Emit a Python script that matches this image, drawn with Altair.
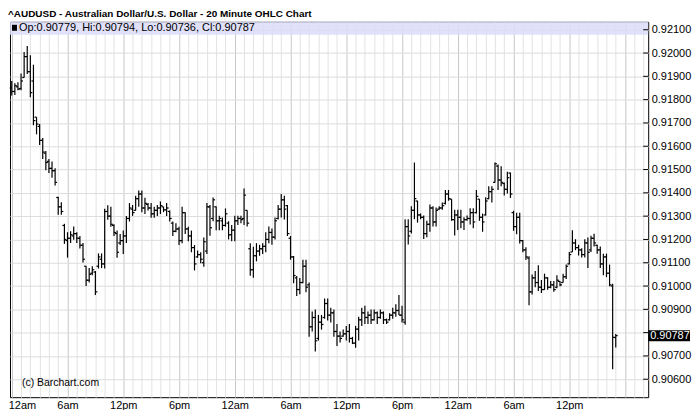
import altair as alt
import pandas as pd
import numpy as np

# ---- data (prices in units of 0.00001) ----
high = [91880,91870,91875,91912,92004,92030,91990,91950,91725,91695,
        91635,91580,91545,91535,91505,91383,91360,91267,91231,91235,
        91255,91231,91215,91185,91085,91077,91085,91065,91140,91140,
        91332,91347,91340,91265,91238,91223,91238,91301,91356,91348,
        91387,91410,91410,91379,91356,91356,91340,91348,91363,91340,
        91356,91324,91277,91270,91254,91340,91317,91254,91238,91176,
        91152,91145,91208,91356,91348,91380,91341,91302,91294,91333,
        91278,91262,91302,91302,91302,91419,91325,91184,91169,91184,
        91177,91184,91231,91255,91247,91294,91348,91395,91387,91348,
        91215,91129,91043,91035,91113,91113,91015,90891,90899,90876,
        90876,90946,90946,90907,90899,90837,90805,90813,90829,90837,
        90782,90829,90868,90907,90915,90891,90899,90899,90891,90899,
        90891,90860,90883,90907,90922,90962,90915,91287,91287,91342,
        91530,91366,91311,91303,91280,91350,91342,91337,91342,91358,
        91412,91412,91373,91327,91327,91327,91295,91303,91334,91334,
        91412,91373,91311,91381,91428,91428,91530,91522,91514,91444,
        91491,91487,91323,91315,91315,91198,91167,91128,91050,91065,
        91089,91026,91053,91038,91022,91022,91046,91022,91053,91092,
        91146,91239,91201,91177,91162,91201,91208,91216,91224,91177,
        91170,91139,91139,91092,91010,90794]
low = [91818,91820,91840,91840,91895,91910,91810,91690,91651,91605,
       91545,91497,91485,91465,91432,91306,91306,91181,91122,91185,
       91199,91185,91161,91101,91000,91015,91046,90961,91075,91077,
       91075,91285,91254,91215,91121,91176,91137,91185,91277,91301,
       91324,91340,91317,91309,91324,91293,91293,91301,91309,91317,
       91301,91277,91215,91231,91176,91184,91223,91192,91145,91067,
       91121,91098,91083,91137,91216,91278,91239,91239,91239,91255,
       91200,91192,91192,91262,91270,91262,91255,91044,91036,91106,
       91130,91137,91145,91184,91177,91200,91286,91294,91286,91215,
       91113,91012,90957,90965,91012,90973,90782,90805,90719,90766,
       90813,90860,90852,90844,90782,90743,90758,90782,90766,90758,
       90751,90735,90766,90829,90837,90837,90837,90852,90837,90860,
       90837,90837,90852,90860,90868,90876,90844,90834,91178,91225,
       91287,91272,91287,91202,91209,91233,91256,91256,91327,91327,
       91350,91366,91280,91217,91241,91248,91241,91280,91264,91248,
       91311,91280,91233,91303,91373,91358,91444,91412,91428,91389,
       91397,91378,91237,91222,91183,91145,91112,90917,90964,90995,
       90979,90970,90984,90984,90991,90976,90991,90999,91015,91030,
       91092,91146,91154,91131,91123,91123,91077,91146,91170,91139,
       91077,91046,91038,90999,90643,90736]
open_ = [91850,91835,91855,91848,91895,91985,91920,91880,91725,91685,
         91625,91570,91535,91505,91495,91380,91340,91260,91195,91205,
         91215,91225,91205,91175,91085,91025,91055,91060,91085,91115,
         91095,91320,91300,91260,91225,91185,91195,91215,91290,91330,
         91325,91375,91395,91335,91350,91335,91310,91325,91335,91340,
         91327,91320,91270,91235,91245,91195,91315,91245,91215,91165,
         91125,91135,91100,91150,91340,91290,91340,91280,91280,91260,
         91270,91220,91240,91280,91290,91290,91325,91160,91070,91130,
         91150,91160,91170,91200,91230,91210,91290,91330,91370,91345,
         91205,91125,91035,90985,91015,91085,91005,90825,90865,90775,
         90845,90865,90925,90875,90885,90805,90785,90785,90795,90805,
         90775,90755,90815,90855,90885,90865,90875,90855,90885,90865,
         90885,90855,90855,90875,90885,90895,90875,90845,91255,91235,
         91325,91365,91305,91295,91225,91265,91335,91275,91330,91335,
         91355,91395,91373,91285,91305,91295,91275,91285,91290,91315,
         91315,91373,91295,91305,91375,91405,91445,91515,91455,91440,
         91415,91485,91315,91255,91295,91195,91155,91120,90975,91035,
         91015,90995,90985,91035,90995,91005,90995,91020,91015,91040,
         91095,91146,91185,91165,91155,91135,91185,91155,91205,91175,
         91155,91095,91125,91055,91000,90779]
close = [91835,91860,91845,91880,91985,91920,91830,91710,91695,91625,
         91575,91530,91505,91495,91445,91340,91320,91200,91205,91220,
         91225,91205,91175,91115,91025,91050,91070,90975,91125,91095,
         91320,91300,91265,91230,91145,91195,91215,91290,91335,91315,
         91375,91395,91335,91355,91335,91310,91325,91335,91345,91327,
         91335,91290,91235,91245,91195,91315,91245,91215,91165,91095,
         91135,91115,91190,91340,91250,91370,91280,91290,91260,91310,
         91220,91240,91280,91290,91285,91390,91270,91070,91130,91150,
         91160,91170,91200,91230,91210,91280,91330,91370,91330,91225,
         91125,91045,90985,91015,91085,90995,90825,90865,90765,90845,
         90835,90925,90875,90885,90805,90785,90775,90795,90805,90775,
         90755,90815,90855,90885,90865,90875,90855,90885,90865,90885,
         90855,90845,90875,90885,90895,90875,90855,91255,91215,91325,
         91375,91305,91295,91225,91265,91335,91275,91325,91335,91345,
         91395,91375,91285,91305,91295,91275,91285,91290,91315,91275,
         91385,91295,91275,91365,91405,91415,91525,91455,91445,91415,
         91465,91395,91255,91295,91195,91155,91125,90975,91035,91015,
         90995,90985,91035,90995,91005,90985,91025,91005,91040,91085,
         91135,91185,91165,91155,91135,91185,91145,91205,91185,91155,
         91095,91125,91055,91005,90780,90787]

y_ticks = [0.906, 0.907, 0.908, 0.909, 0.910, 0.911, 0.912, 0.913,
           0.914, 0.915, 0.916, 0.917, 0.918, 0.919, 0.920, 0.921]
hidden_label = 0.908   # covered by the last-price box in the reference
hour_names = {0: "12am", 6: "6am", 12: "12pm", 18: "6pm"}
label_hours = [0, 6, 12, 18, 24, 30, 36, 42, 48, 54, 60]
grid_hours = list(range(0, 69))
title_text = "^AUDUSD - Australian Dollar/U.S. Dollar - 20 Minute OHLC Chart"
legend_text = "Op:0.90779, Hi:0.90794, Lo:0.90736, Cl:0.90787"
copyright_text = "(c) Barchart.com"
last_price = 0.90787

# ---- layout ----
W, H = 641, 377
FONT = "Liberation Sans"

n = len(high)
df = pd.DataFrame({
    "hour": np.arange(n) / 3.0,
    "high": np.array(high) / 100000.0,
    "low": np.array(low) / 100000.0,
    "open": np.array(open_) / 100000.0,
    "close": np.array(close) / 100000.0,
})

xs = alt.Scale(domain=[-0.19, 68.49], nice=False, zero=False)
ys = alt.Scale(domain=[0.90523, 0.92134], nice=False, zero=False)

label_expr = ("indexof([" + ",".join(str(h) for h in label_hours) + "], datum.value) >= 0 ? "
              "(datum.value % 24 === 0 ? '" + hour_names[0] + "' : datum.value % 24 === 6 ? '"
              + hour_names[6] + "' : datum.value % 24 === 12 ? '" + hour_names[12] + "' : '"
              + hour_names[18] + "') : ''")
y_label_expr = ("abs(datum.value - " + str(hidden_label) + ") < 0.000001 ? '' : "
                "format(datum.value, '.5f')")

x_axis = alt.Axis(orient="bottom", values=grid_hours, labelExpr=label_expr,
                  labelOverlap=False, labelFlush=6, labelFlushOffset=3.5,
                  ticks=False, domain=False, labelPadding=2,
                  labelFontSize=11, labelColor="black", labelFont=FONT,
                  grid=True,
                  gridColor={"condition": {"test": "datum.value % 6 === 0", "value": "#c8c8c8"},
                             "value": "#e2e2e2"},
                  title=None)
y_axis = alt.Axis(orient="right", values=y_ticks, labelExpr=y_label_expr,
                  ticks=False, domain=False, labelPadding=3,
                  labelFontSize=11, labelColor="black", labelFont=FONT,
                  grid=True, gridColor="#dcdcdc", title=None)


def X(field):
    return alt.X(field, type="quantitative", scale=xs, axis=x_axis)


def Y(field):
    return alt.Y(field, type="quantitative", scale=ys, axis=y_axis)


bars = alt.Chart(df).mark_rule(color="black", strokeWidth=1.2).encode(
    x=X("hour"), y=Y("low"), y2="high")
open_ticks = alt.Chart(df).mark_tick(orient="horizontal", size=2, thickness=1.2,
                                     xOffset=-1, color="black", opacity=1).encode(
    x=X("hour"), y=Y("open"))
close_ticks = alt.Chart(df).mark_tick(orient="horizontal", size=2, thickness=1.2,
                                      xOffset=1, color="black", opacity=1).encode(
    x=X("hour"), y=Y("close"))

one = pd.DataFrame({"k": [0]})
band = alt.Chart(one).mark_rect(color="#dcdcf8", opacity=0.85).encode(
    x=alt.value(0), x2=alt.value(W), y=alt.value(0), y2=alt.value(13))
square = alt.Chart(one).mark_rect(color="black").encode(
    x=alt.value(2), x2=alt.value(7), y=alt.value(3), y2=alt.value(9))
legend = alt.Chart(pd.DataFrame({"t": [legend_text]})).mark_text(
    align="left", baseline="middle", fontSize=11, font=FONT, color="black").encode(
    x=alt.value(9), y=alt.value(6.5), text="t:N")
title = alt.Chart(pd.DataFrame({"t": [title_text]})).mark_text(
    align="left", baseline="alphabetic", fontSize=10, fontWeight="bold", font=FONT,
    color="black").encode(x=alt.value(-2), y=alt.value(-5), text="t:N")
copyright = alt.Chart(pd.DataFrame({"t": [copyright_text]})).mark_text(
    align="left", baseline="middle", fontSize=10.5, font=FONT, color="black").encode(
    x=alt.value(12), y=alt.value(H - 14), text="t:N")

inward = alt.Chart(pd.DataFrame({"v": y_ticks})).mark_rule(color="black").encode(
    y=Y("v"), x=alt.value(W - 5), x2=alt.value(W))

last_df = pd.DataFrame({"p": [last_price], "t": [f"{last_price:.5f}"]})
last_box = alt.Chart(last_df).mark_tick(orient="horizontal", size=42, thickness=11,
                                        color="black", opacity=1).encode(
    y=Y("p"), x=alt.value(W + 21))
last_txt = alt.Chart(last_df).mark_text(align="left", baseline="middle", fontSize=11,
                                        font=FONT, color="white").encode(
    y=Y("p"), x=alt.value(W + 2), text="t:N")

chart = alt.layer(bars, band, open_ticks, close_ticks, square, legend, title, copyright,
                  inward, last_box, last_txt).properties(
    width=W, height=H,
    autosize=alt.AutoSizeParams(type="none"),
    padding={"left": 2, "top": 13, "right": 44, "bottom": 12},
    background="white",
).configure_view(stroke="black", strokeWidth=1)

chart.save("out.html", embed_options={"renderer": "svg", "actions": False})
